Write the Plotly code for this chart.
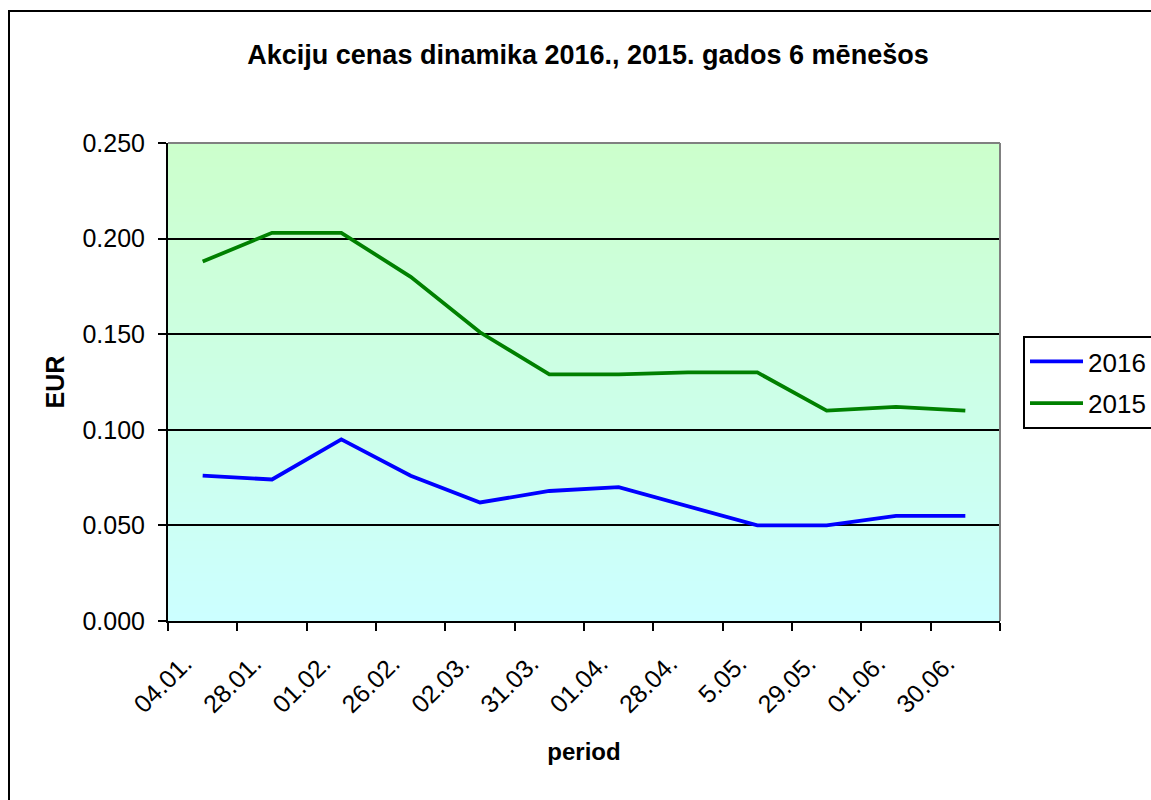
import plotly.graph_objects as go

categories = ["04.01.", "28.01.", "01.02.", "26.02.", "02.03.", "31.03.",
              "01.04.", "28.04.", "5.05.", "29.05.", "01.06.", "30.06."]
values_2016 = [0.076, 0.074, 0.095, 0.076, 0.062, 0.068,
               0.070, 0.060, 0.050, 0.050, 0.055, 0.055]
values_2015 = [0.188, 0.203, 0.203, 0.180, 0.151, 0.129,
               0.129, 0.130, 0.130, 0.110, 0.112, 0.110]
y_ticks = [0.0, 0.05, 0.10, 0.15, 0.20, 0.25]

FONT = "Liberation Sans, Arial, sans-serif"
W, H = 1151, 800
L, R, T, B = 168, 151, 143, 179
pw, ph = W - L - R, H - T - B

fig = go.Figure()
fig.add_trace(go.Scatter(x=categories, y=values_2016, name="2016", mode="lines",
                         legendgroup="a",
                         line=dict(color="#0000FF", width=3.8)))
fig.add_trace(go.Scatter(x=categories, y=values_2015, name="2015", mode="lines",
                         legendgroup="b",
                         line=dict(color="#008000", width=3.8)))

shapes = []
# vertical gradient background: light green (top) -> light cyan (bottom)
n = 60
for i in range(n):
    f = i / (n - 1)
    b = round(255 - (255 - 204) * f)
    shapes.append(dict(type="rect", xref="paper", yref="paper",
                       x0=0, x1=1, y0=i / n, y1=(i + 1) / n + 0.002,
                       fillcolor=f"rgb(204,255,{b})", line=dict(width=0), layer="below"))
# plot area top/right gray border
shapes.append(dict(type="line", xref="paper", yref="paper", x0=0, x1=1, y0=1, y1=1,
                   line=dict(color="#808080", width=2)))
shapes.append(dict(type="line", xref="paper", yref="paper", x0=1, x1=1, y0=0, y1=1,
                   line=dict(color="#808080", width=2)))
# outer chart border
shapes.append(dict(type="rect", xref="paper", yref="paper",
                   x0=(9 - L) / pw, x1=(W + 20 - L) / pw,
                   y0=-(H + 20 - T - ph) / ph, y1=(H - B - 11) / ph,
                   line=dict(color="black", width=2), fillcolor="rgba(0,0,0,0)"))

fig.update_layout(
    width=W, height=H,
    margin=dict(l=L, r=R, t=T, b=B, autoexpand=False),
    paper_bgcolor="white", plot_bgcolor="rgb(204,255,230)",
    font=dict(family=FONT, color="black", size=25),
    title=dict(text="<b>Akciju cenas dinamika 2016., 2015. gados 6 mēnešos</b>",
               x=588 / W, xanchor="center", y=1 - 55 / H, yanchor="middle",
               font=dict(size=27, family=FONT)),
    shapes=shapes,
    showlegend=True,
    legend=dict(x=(1023 - L) / pw, xanchor="left", y=(H - B - 336) / ph, yanchor="top",
                bordercolor="black", borderwidth=2, bgcolor="white",
                font=dict(size=26, family=FONT), tracegroupgap=5, itemwidth=53),
    xaxis=dict(type="category", categoryorder="array", categoryarray=categories,
               range=[-0.5, len(categories) - 0.5], tickson="boundaries",
               ticks="outside", ticklen=8, tickcolor="black", tickwidth=2,
               showline=True, linecolor="black", linewidth=2, showgrid=False,
               tickangle=-45, tickfont=dict(size=25, family=FONT),
               ticklabelstandoff=16, ticklabelshift=-18,
               title=dict(text="<b>period</b>", font=dict(size=24, family=FONT), standoff=26),
               zeroline=False),
    yaxis=dict(range=[0, 0.25], tickvals=y_ticks, tickformat=".3f",
               ticks="outside", ticklen=8, tickcolor="black", tickwidth=2,
               showline=True, linecolor="black", linewidth=2,
               showgrid=True, gridcolor="black", gridwidth=2,
               tickfont=dict(size=25, family=FONT), zeroline=False, ticklabelstandoff=8,
               title=dict(text="<b>EUR</b>", font=dict(size=25, family=FONT), standoff=11)),
)

fig.write_html("out.html", config={"displayModeBar": False},
               post_script="document.body.style.margin='0';document.body.style.overflow='hidden';")
